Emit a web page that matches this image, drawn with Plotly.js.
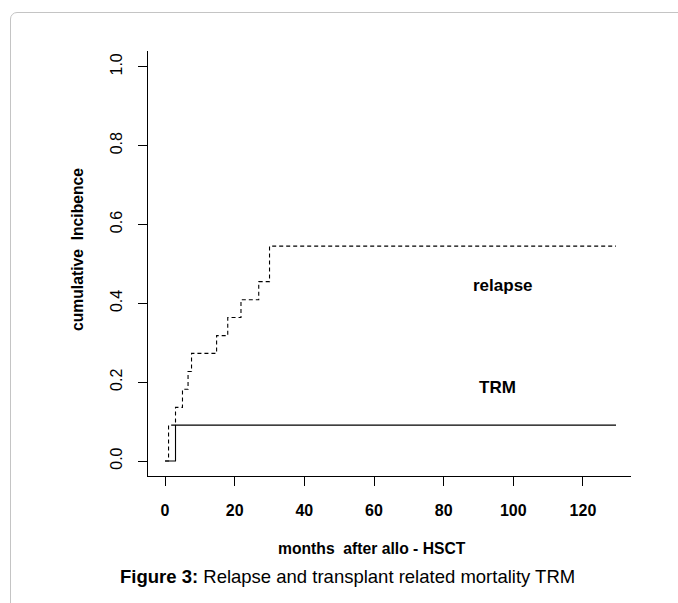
<!DOCTYPE html>
<html>
<head>
<meta charset="utf-8">
<script src="https://cdn.plot.ly/plotly-3.0.1.min.js"></script>
<style>
  html, body { margin:0; padding:0; background:#fff; overflow:hidden; }
  #wrap { position:relative; width:678px; height:603px; overflow:hidden; }
  #frame { position:absolute; left:10px; top:12px; width:700px; height:640px;
           border:1.5px solid #c4c4c4; border-radius:7px; box-sizing:border-box; }
  #chart { position:absolute; left:0; top:0; width:678px; height:603px; }
</style>
</head>
<body>
<div id="wrap">
  <div id="frame"></div>
  <div id="chart"></div>
</div>
<script>
// Cumulative incidence (step functions)
const relapseMonths = [0, 1, 3, 5, 6.6, 7.6, 14.8, 18, 21.8, 26.9, 30, 129.5];
const relapseCI     = [0, 0.091, 0.136, 0.182, 0.227, 0.273, 0.318, 0.364, 0.409, 0.455, 0.545, 0.545];
const trmMonths = [0, 3, 129.5];
const trmCI     = [0, 0.091, 0.091];

const xTicks = [0, 20, 40, 60, 80, 100, 120];
const yTicks = [0, 0.2, 0.4, 0.6, 0.8, 1.0];
const yTickText = ["0.0", "0.2", "0.4", "0.6", "0.8", "1.0"];

const FONT = "Liberation Sans, Arial, Helvetica, sans-serif";

const traces = [
  { x: relapseMonths, y: relapseCI, mode: "lines", type: "scatter",
    line: { shape: "hv", color: "#000", width: 1.1, dash: "4px,3px" }, hoverinfo: "skip" },
  { x: trmMonths, y: trmCI, mode: "lines", type: "scatter",
    line: { shape: "hv", color: "#000", width: 1.1 }, hoverinfo: "skip" }
];

const W = 678, H = 603, L = 148, R = 47, T = 51, B = 127;
const PW = W - L - R, PH = H - T - B;
function px(x) { return (x - L) / PW; }
function py(y) { return (H - B - y) / PH; }

const layout = {
  width: W, height: H,
  margin: { l: L, r: R, t: T, b: B, pad: 0 },
  paper_bgcolor: "rgba(0,0,0,0)",
  plot_bgcolor: "rgba(0,0,0,0)",
  showlegend: false,
  font: { family: FONT, color: "#000" },
  xaxis: {
    range: [-4.9, 133.8], tickvals: xTicks, ticktext: xTicks.map(String),
    showline: true, linecolor: "#000", linewidth: 1, mirror: false,
    showgrid: false, zeroline: false,
    ticks: "outside", ticklen: 9, tickwidth: 1, tickcolor: "#000",
    tickfont: { family: FONT, size: 16, weight: "bold", color: "#000" },
    ticklabelstandoff: 11,
    fixedrange: true
  },
  yaxis: {
    range: [-0.038, 1.04], tickvals: yTicks, ticktext: yTickText,
    showline: true, linecolor: "#000", linewidth: 1, mirror: false,
    showgrid: false, zeroline: false,
    ticks: "outside", ticklen: 9, tickwidth: 1, tickcolor: "#000",
    tickangle: -90,
    tickfont: { family: FONT, size: 16, color: "#000" },
    ticklabelstandoff: 10,
    fixedrange: true
  },
  annotations: [
    { xref: "x", yref: "y", x: 97, y: 0.445, text: "<b>relapse</b>", showarrow: false,
      font: { family: FONT, size: 17, color: "#000" } },
    { xref: "x", yref: "y", x: 95.5, y: 0.187, text: "<b>TRM</b>", showarrow: false,
      font: { family: FONT, size: 17, color: "#000" } },
    { xref: "paper", yref: "paper", x: px(372), y: py(548), text: "<b>months\u00A0 after allo - HSCT</b>",
      showarrow: false, xanchor: "center", yanchor: "middle",
      font: { family: FONT, size: 15.7, color: "#000" } },
    { xref: "paper", yref: "paper", x: px(77), y: py(250), text: "<b>cumulative\u00A0 Incibence</b>",
      showarrow: false, textangle: -90, xanchor: "center", yanchor: "middle",
      font: { family: FONT, size: 15.7, color: "#000" } },
    { xref: "paper", yref: "paper", x: px(347), y: py(576),
      text: "<b>Figure 3:</b> Relapse and transplant related mortality TRM",
      showarrow: false, xanchor: "center", yanchor: "middle",
      font: { family: FONT, size: 18.5, color: "#000" } }
  ]
};

Plotly.newPlot("chart", traces, layout, { staticPlot: true, displayModeBar: false });
</script>
</body>
</html>
